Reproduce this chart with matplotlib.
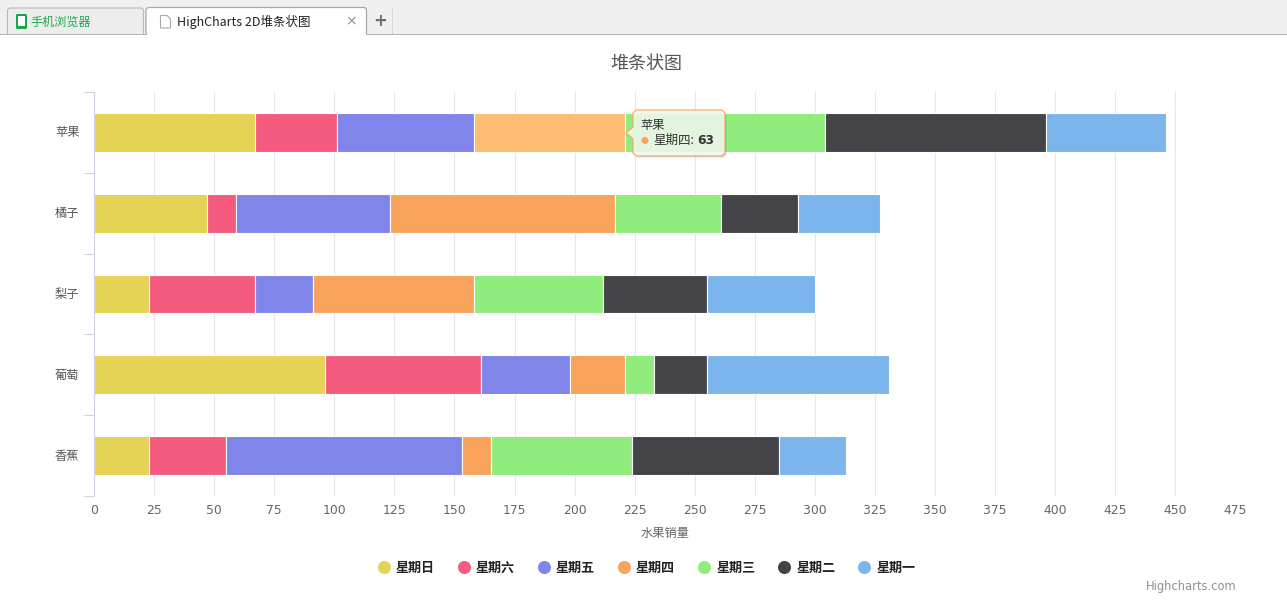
import matplotlib
matplotlib.use("Agg")
import matplotlib.pyplot as plt
from matplotlib.lines import Line2D
from matplotlib.patches import FancyBboxPatch, Polygon, Rectangle, Circle
from matplotlib.transforms import Affine2D, ScaledTranslation

plt.rcParams['font.family'] = ['Noto Sans CJK SC', 'DejaVu Sans']

categories = ['苹果', '橘子', '梨子', '葡萄', '香蕉']
series_names = ['星期日', '星期六', '星期五', '星期四', '星期三', '星期二', '星期一']
sunday = [67, 47, 23, 96, 23]
saturday = [34, 12, 44, 65, 32]
friday = [57, 64, 24, 37, 98]
thursday = [63, 94, 67, 23, 12]
wednesday = [83, 44, 54, 12, 59]
tuesday = [92, 32, 43, 22, 61]
monday = [50, 34, 45, 76, 28]
series_values = [sunday, saturday, friday, thursday, wednesday, tuesday, monday]
colors = ['#E4D354', '#F45B7F', '#8085E9', '#F7A35C', '#90ED7D', '#434348', '#7CB5EC']
hover_color = '#FFBC75'
x_ticks = list(range(0, 476, 25))

W, H = 1287, 609
fig = plt.figure(figsize=(W / 100, H / 100), dpi=100, facecolor='white')
px = Affine2D().scale(1, -1).translate(0, H)

def add(p):
    p.set_transform(px)
    fig.add_artist(p)
    return p

def label(x, y, s, **kw):
    kw.setdefault('va', 'center')
    kw.setdefault('ha', 'left')
    return fig.text(x, y, s, transform=px, **kw)

ax = fig.add_axes([94 / W, 1 - 496 / H, 1141.5 / W, 404 / H])
ax.set_xlim(0, 475)
ax.set_ylim(4.5, -0.5)
for s in ('top', 'right', 'bottom'):
    ax.spines[s].set_visible(False)
ax.spines['left'].set_color('#CDD3E0')
ax.spines['left'].set_linewidth(0.8)
ax.set_axisbelow(True)
ax.grid(axis='x', color='#E6E6E6', lw=0.8)
ax.set_xticks(x_ticks)
ax.tick_params(axis='x', length=0, pad=6, labelsize=8.9, labelcolor='#666666')
for t in ax.get_xticklabels():
    t.set_family('DejaVu Sans')
ax.set_yticks(range(len(categories)), categories)
ax.set_yticks([i - 0.5 for i in range(len(categories) + 1)], minor=True)
ax.tick_params(axis='y', which='major', length=0, pad=10.4, labelsize=8.8, labelcolor='#555555')
shift = ScaledTranslation(0, 1 / 100, fig.dpi_scale_trans)
for t in ax.get_yticklabels():
    t.set_transform(t.get_transform() + shift)
ax.tick_params(axis='y', which='minor', length=7.2, width=0.8, color='#CDD3E0')

left = [0] * len(categories)
for name, vals, col in zip(series_names, series_values, colors):
    cols = [col] * len(vals)
    if name == '星期四':
        cols[0] = hover_color
    ax.barh(range(len(categories)), vals, left=left, height=0.48, color=cols,
            edgecolor='white', linewidth=0.8, label=name)
    left = [a + b for a, b in zip(left, vals)]

# title, axis title, credits
label(646, 64, '堆条状图', ha='center', fontsize=13, color='#555555')
label(665.5, 533.5, '水果销量', ha='center', fontsize=8.8, color='#666666')
label(1236.5, 586.5, 'Highcharts.com', ha='right', fontsize=8.3, color='#909090',
      family='DejaVu Sans')

# legend
handles = [Line2D([], [], ls='none', marker='o', ms=9.4, mfc=c, mec='none') for c in colors]
fig.legend(handles, series_names, loc='center', bbox_to_anchor=(646.5 / W, 1 - 568 / H),
           ncols=7, frameon=False, borderpad=0, borderaxespad=0, handlelength=0.92,
           handletextpad=0.46, columnspacing=1.77,
           prop={'size': 9.4, 'weight': 'bold', 'family': 'Noto Sans CJK SC'},
           labelcolor='#222222')

# browser tab strip
add(Rectangle((0, 0), W, 34.5, fc='#F0F0F0', ec='none'))
add(Rectangle((0, 34), W, 1, fc='#B4B4B4', ec='none'))
add(FancyBboxPatch((7.5, 8), 136, 30, boxstyle='round,pad=0,rounding_size=3',
                   fc='#EDEDED', ec='#B8B8B8', lw=0.8))
add(Rectangle((0, 34), 145, 1, fc='#B4B4B4', ec='none'))
add(Rectangle((0, 35), W, 12, fc='white', ec='none'))
add(FancyBboxPatch((146, 7.5), 220.5, 27.5, boxstyle='round,pad=0,rounding_size=3',
                   fc='white', ec='#A8A8A8', lw=0.9))
add(Rectangle((147, 33), 219, 4, fc='white', ec='none'))
add(Rectangle((392, 8), 1, 26, fc='#D8D8D8', ec='none'))
add(FancyBboxPatch((16, 14), 11, 15, boxstyle='round,pad=0,rounding_size=1.5',
                   fc='#12A84A', ec='none'))
add(Rectangle((18, 16), 7, 9.5, fc='white', ec='none'))
label(30, 22, '手机浏览器', fontsize=8.7, color='#1FA850')
add(Polygon([(160.5, 15.5), (167, 15.5), (170.5, 19), (170.5, 28), (160.5, 28)],
            closed=True, fc='white', ec='#A8A8A8', lw=0.8))
label(177, 22, 'HighCharts 2D堆条状图', fontsize=9, color='#222222')
label(351, 21.5, '×', ha='center', fontsize=10, color='#909090', family='DejaVu Sans')
label(380, 21, '+', ha='center', fontsize=12, color='#707070', family='DejaVu Sans', weight='bold')

# tooltip
tip = [(636, 110), (722, 110), (725, 113), (725, 153), (722, 156), (636, 156), (633, 153),
       (633, 139), (626, 133), (633, 127), (633, 113)]
add(Polygon([(x + 1.5, y + 1.5) for x, y in tip], closed=True, fc='#000000', ec='none', alpha=0.14))
add(Polygon(tip, closed=True, fc='#F4FBF0', ec='none', alpha=0.88))
add(Polygon(tip, closed=True, fc='none', ec=colors[3], lw=0.8))
label(640, 125, categories[0], fontsize=8.8, color='#333333')
add(Circle((645, 140.5), 3.5, fc=colors[3], ec='none'))
label(653, 140, series_names[3] + ':', fontsize=9, color='#333333')
label(697, 140, str(thursday[0]), fontsize=8.8, color='#333333', weight='bold', family='DejaVu Sans')

fig.savefig('out.png', dpi=100)
